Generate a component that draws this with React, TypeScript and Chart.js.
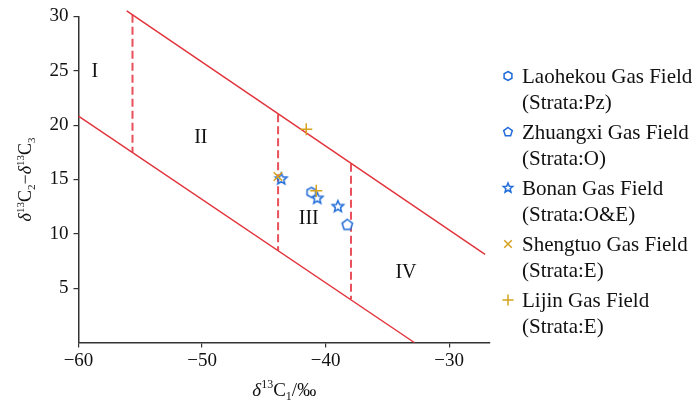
import React, { useEffect, useRef } from 'react';
import { Chart, registerables } from 'chart.js';

Chart.register(...registerables);

// ---- data ----
const xMin = -60;
const xMax = -26.7;
const yMin = 0;
const yMax = 30;
const xTickValues = [-60, -50, -40, -30];
const yTickValues = [5, 10, 15, 20, 25, 30];

const upperBoundary = [{ x: -56.1, y: 30.5 }, { x: -27.1, y: 8.1 }];
const lowerBoundary = [{ x: -60, y: 20.83 }, { x: -32.83, y: 0 }];
const dividerA = [{ x: -55.63, y: 30.15 }, { x: -55.63, y: 17.5 }];
const dividerB = [{ x: -43.85, y: 21.0 }, { x: -43.85, y: 8.45 }];
const dividerC = [{ x: -37.95, y: 16.45 }, { x: -37.95, y: 4.0 }];

const laohekou = [{ x: -41.16, y: 13.81 }];
const zhuangxi = [{ x: -38.25, y: 10.82 }];
const bonan = [{ x: -43.59, y: 15.04 }, { x: -40.68, y: 13.26 }, { x: -39.01, y: 12.5 }];
const shengtuo = [{ x: -43.86, y: 15.27 }];
const lijin = [{ x: -41.57, y: 19.62 }, { x: -40.76, y: 13.97 }];

const regionLabels = ['I', 'II', 'III', 'IV'];
const regionX = [-58.67, -50.1, -41.37, -33.5];
const regionY = [24.95, 18.8, 11.37, 6.46];

const legendLine1 = [
  'Laohekou Gas Field',
  'Zhuangxi Gas Field',
  'Bonan Gas Field',
  'Shengtuo Gas Field',
  'Lijin Gas Field',
];
const legendLine2 = ['(Strata:Pz)', '(Strata:O)', '(Strata:O&E)', '(Strata:E)', '(Strata:E)'];
const legendShapes = ['hexagon', 'pentagon', 'star', 'crossRot', 'cross'];

const BLUE = '#1f6bd8';
const GOLD = '#d6a11c';
const RED = '#e2343c';
const RED_DASH = '#e8505a';
const SERIF = '"Liberation Serif", "Times New Roman", serif';

function shapePath(ctx: CanvasRenderingContext2D, kind: string, cx: number, cy: number, r: number) {
  ctx.beginPath();
  if (kind === 'hexagon' || kind === 'pentagon') {
    const n = kind === 'hexagon' ? 6 : 5;
    for (let i = 0; i < n; i++) {
      const a = -Math.PI / 2 + (i * 2 * Math.PI) / n;
      const px = cx + r * Math.cos(a);
      const py = cy + r * Math.sin(a);
      if (i === 0) ctx.moveTo(px, py);
      else ctx.lineTo(px, py);
    }
    ctx.closePath();
  } else if (kind === 'star') {
    for (let i = 0; i < 10; i++) {
      const a = -Math.PI / 2 + (i * Math.PI) / 5;
      const rr = i % 2 === 0 ? r : r * 0.45;
      const px = cx + rr * Math.cos(a);
      const py = cy + rr * Math.sin(a);
      if (i === 0) ctx.moveTo(px, py);
      else ctx.lineTo(px, py);
    }
    ctx.closePath();
  } else if (kind === 'cross') {
    ctx.moveTo(cx - r, cy);
    ctx.lineTo(cx + r, cy);
    ctx.moveTo(cx, cy - r);
    ctx.lineTo(cx, cy + r);
  } else if (kind === 'crossRot') {
    const d = r * 0.75;
    ctx.moveTo(cx - d, cy - d);
    ctx.lineTo(cx + d, cy + d);
    ctx.moveTo(cx + d, cy - d);
    ctx.lineTo(cx - d, cy + d);
  }
}

function drawShape(ctx: CanvasRenderingContext2D, kind: string, cx: number, cy: number, r: number, color: string, lw: number) {
  ctx.save();
  shapePath(ctx, kind, cx, cy, r);
  if (kind !== 'cross' && kind !== 'crossRot') {
    ctx.fillStyle = '#ffffff';
    ctx.fill();
  }
  ctx.strokeStyle = color;
  ctx.lineWidth = lw;
  ctx.lineJoin = 'miter';
  ctx.stroke();
  ctx.restore();
}

function makeMarker(kind: string, color: string, r: number) {
  const c = document.createElement('canvas');
  const s = Math.ceil(r * 2 + 4);
  c.width = s;
  c.height = s;
  const ctx = c.getContext('2d')!;
  drawShape(ctx, kind, s / 2, s / 2, r, color, 1.5);
  return c;
}

type Seg = { t: string; size: number; italic?: boolean; dy?: number };

function drawRich(ctx: CanvasRenderingContext2D, segs: Seg[], cx: number, baseline: number) {
  let total = 0;
  const widths: number[] = [];
  for (const s of segs) {
    ctx.font = `${s.italic ? 'italic ' : ''}${s.size}px ${SERIF}`;
    const w = ctx.measureText(s.t).width;
    widths.push(w);
    total += w;
  }
  let x = cx - total / 2;
  ctx.textAlign = 'left';
  ctx.textBaseline = 'alphabetic';
  segs.forEach((s, i) => {
    ctx.font = `${s.italic ? 'italic ' : ''}${s.size}px ${SERIF}`;
    ctx.fillText(s.t, x, baseline + (s.dy || 0));
    x += widths[i];
  });
}

const overlayPlugin = {
  id: 'overlay',
  afterDraw(chart: any) {
    const ctx: CanvasRenderingContext2D = chart.ctx;
    const xs = chart.scales.x;
    const ys = chart.scales.y;
    const area = chart.chartArea;
    ctx.save();
    ctx.fillStyle = '#111';

    // region labels
    ctx.font = `20px ${SERIF}`;
    ctx.textAlign = 'center';
    ctx.textBaseline = 'middle';
    regionLabels.forEach((lab, i) => {
      ctx.fillText(lab, xs.getPixelForValue(regionX[i]), ys.getPixelForValue(regionY[i]));
    });

    // x title
    drawRich(
      ctx,
      [
        { t: 'δ', size: 19, italic: true },
        { t: '13', size: 12, dy: -8 },
        { t: 'C', size: 19 },
        { t: '1', size: 12, dy: 4 },
        { t: '/‰', size: 19 },
      ],
      (area.left + area.right) / 2,
      396
    );

    // y title
    ctx.save();
    ctx.translate(31, (area.top + area.bottom) / 2);
    ctx.rotate(-Math.PI / 2);
    drawRich(
      ctx,
      [
        { t: 'δ', size: 18, italic: true },
        { t: '13', size: 11, dy: -7 },
        { t: 'C', size: 18 },
        { t: '2', size: 11, dy: 4 },
        { t: '−', size: 18 },
        { t: 'δ', size: 18, italic: true },
        { t: '13', size: 11, dy: -7 },
        { t: 'C', size: 18 },
        { t: '3', size: 11, dy: 4 },
      ],
      0,
      0
    );
    ctx.restore();

    // legend
    const colors = [BLUE, BLUE, BLUE, GOLD, GOLD];
    const sizes = [4.5, 4.5, 5, 5, 5.5];
    ctx.font = `21px ${SERIF}`;
    ctx.textAlign = 'left';
    ctx.textBaseline = 'alphabetic';
    legendLine1.forEach((t, i) => {
      const cy = 76 + 56 * i;
      drawShape(ctx, legendShapes[i], 508, cy, sizes[i], colors[i], 1.5);
      ctx.fillStyle = '#111';
      ctx.font = `21px ${SERIF}`;
      ctx.fillText(t, 522, cy + 7);
      ctx.fillText(legendLine2[i], 522, cy + 33);
    });
    ctx.restore();
  },
};

export default function App() {
  const ref = useRef<HTMLCanvasElement | null>(null);

  useEffect(() => {
    if (!ref.current) return;
    const hex = makeMarker('hexagon', BLUE, 5);
    const pent = makeMarker('pentagon', BLUE, 5.5);
    const star = makeMarker('star', BLUE, 6);

    const lineDs = (data: any[], dashed: boolean) => ({
      data,
      showLine: true,
      borderColor: dashed ? RED_DASH : RED,
      borderWidth: dashed ? 2 : 1.5,
      borderDash: dashed ? [8, 4] : [],
      pointRadius: 0,
      fill: false,
      clip: false as any,
      order: 10,
    });

    const chart = new Chart(ref.current, {
      type: 'scatter',
      data: {
        datasets: [
          lineDs(upperBoundary, false),
          lineDs(lowerBoundary, false),
          lineDs(dividerA, true),
          lineDs(dividerB, true),
          lineDs(dividerC, true),
          { label: 'Laohekou', data: laohekou, pointStyle: hex as any, pointRadius: 5, order: 1 },
          { label: 'Zhuangxi', data: zhuangxi, pointStyle: pent as any, pointRadius: 5, order: 1 },
          { label: 'Bonan', data: bonan, pointStyle: star as any, pointRadius: 5, order: 1 },
          {
            label: 'Shengtuo',
            data: shengtuo,
            pointStyle: 'crossRot',
            pointRadius: 6,
            borderColor: GOLD,
            borderWidth: 1.5,
            order: 0,
          },
          {
            label: 'Lijin',
            data: lijin,
            pointStyle: 'cross',
            pointRadius: 6,
            borderColor: GOLD,
            borderWidth: 1.5,
            order: 0,
          },
        ],
      },
      options: {
        responsive: false,
        animation: false,
        events: [],
        layout: { padding: { left: 0, top: 15, right: 207, bottom: 0 } },
        plugins: { legend: { display: false }, tooltip: { enabled: false } },
        scales: {
          x: {
            type: 'linear',
            min: xMin,
            max: xMax,
            afterBuildTicks: (s: any) => {
              s.ticks = xTickValues.map((v) => ({ value: v }));
            },
            afterFit: (s: any) => {
              s.height = 60.5;
            },
            ticks: {
              color: '#111',
              font: { family: SERIF, size: 19 },
              padding: 2,
              maxRotation: 0,
              callback: (v: any) => String(v).replace('-', '−'),
            },
            grid: { drawOnChartArea: false, drawTicks: true, tickLength: 5, color: '#333', lineWidth: 1.2 },
            border: { color: '#333', width: 1.5 },
          },
          y: {
            type: 'linear',
            min: yMin,
            max: yMax,
            afterBuildTicks: (s: any) => {
              s.ticks = yTickValues.map((v) => ({ value: v }));
            },
            afterFit: (s: any) => {
              s.width = 78.5;
            },
            ticks: {
              color: '#111',
              font: { family: SERIF, size: 19 },
              padding: 5,
            },
            grid: { drawOnChartArea: false, drawTicks: true, tickLength: 5, color: '#333', lineWidth: 1.2 },
            border: { color: '#333', width: 1.5 },
          },
        },
      },
      plugins: [overlayPlugin],
    });
    return () => chart.destroy();
  }, []);

  return (
    <div style={{ position: 'absolute', left: 0, top: 0, width: 697, height: 403, background: '#fff' }}>
      <canvas ref={ref} width={697} height={403} style={{ width: 697, height: 403 }} />
    </div>
  );
}
